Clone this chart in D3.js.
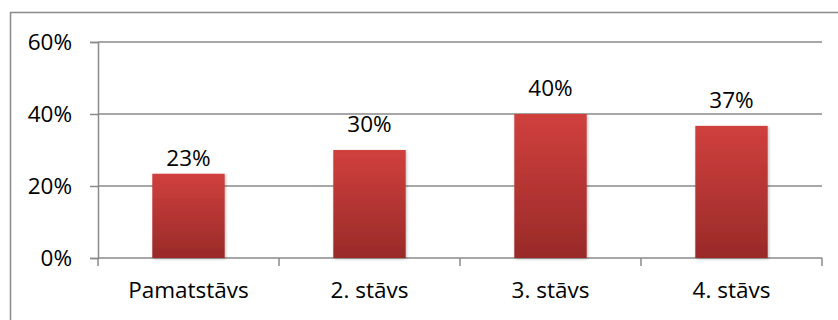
<!DOCTYPE html>
<html>
<head>
<meta charset="utf-8">
<script src="https://cdn.jsdelivr.net/npm/d3@7"></script>
<style>
  body { margin: 0; background: #fff; }
  svg { display: block; font-family: "Open Sans", sans-serif; }
</style>
</head>
<body>
<svg id="chart" width="838" height="320"></svg>
<script>
// Floor share chart
const categories = ['Pamatstāvs', '2. stāvs', '3. stāvs', '4. stāvs'];
const values = [0.234, 0.30, 0.40, 0.367];
const valueLabels = ['23%', '30%', '40%', '37%'];
const yTicks = [0, 0.2, 0.4, 0.6];

const svg = d3.select('#chart');
const plot = { left: 98, right: 822, top: 42, bottom: 258 };
const fontSize = '22.5px';

// outer frame (runs off the right and bottom edge)
svg.append('rect')
    .attr('x', 10.5)
    .attr('y', 12.5)
    .attr('width', 840)
    .attr('height', 320)
    .style('fill', 'none')
    .style('stroke', '#8a8a8a')
    .style('stroke-width', 1.5);

const defs = svg.append('defs');
const grad = defs.append('linearGradient')
    .attr('id', 'barGrad')
    .attr('x1', 0).attr('y1', 0).attr('x2', 0).attr('y2', 1);
grad.append('stop').attr('offset', '0%').attr('stop-color', '#d0403e');
grad.append('stop').attr('offset', '100%').attr('stop-color', '#992a28');

const shadow = defs.append('filter')
    .attr('id', 'shadow')
    .attr('x', '-20%').attr('y', '-20%')
    .attr('width', '140%').attr('height', '140%');
shadow.append('feDropShadow')
    .attr('dx', 1).attr('dy', 1)
    .attr('stdDeviation', 1.5)
    .attr('flood-color', '#000')
    .attr('flood-opacity', 0.25);

const xScale = d3.scaleBand()
    .domain(categories)
    .range([plot.left, plot.right])
    .paddingInner(0.6)
    .paddingOuter(0.3);

const yScale = d3.scaleLinear()
    .domain([0, 0.6])
    .range([plot.bottom, plot.top]);

// gridlines
svg.append('g')
    .selectAll('line')
    .data(yTicks.filter(d => d > 0))
    .enter().append('line')
    .attr('x1', plot.left)
    .attr('x2', plot.right)
    .attr('y1', d => yScale(d))
    .attr('y2', d => yScale(d))
    .style('stroke', '#8a8a8a')
    .style('stroke-width', 1.5);

// y axis
const yAxis = svg.append('g')
    .attr('transform', `translate(${plot.left},0)`)
    .call(d3.axisLeft(yScale)
        .tickValues(yTicks)
        .tickFormat(d3.format('.0%'))
        .tickSize(8)
        .tickPadding(18));
yAxis.select('.domain').style('stroke', '#8a8a8a').style('stroke-width', 1.5);
yAxis.selectAll('.tick line').style('stroke', '#8a8a8a').style('stroke-width', 1.5);
yAxis.selectAll('.tick text')
    .style('font-family', '"Open Sans", sans-serif')
    .style('font-size', fontSize)
    .style('fill', '#000');

// x axis with ticks at category boundaries
const boundaries = categories.map(c => xScale(c) - xScale.step() * xScale.paddingInner() / 2);
boundaries.push(plot.right);

svg.append('line')
    .attr('x1', plot.left).attr('x2', plot.right)
    .attr('y1', plot.bottom).attr('y2', plot.bottom)
    .style('stroke', '#8a8a8a')
    .style('stroke-width', 1.5);

svg.append('g')
    .selectAll('line')
    .data(boundaries)
    .enter().append('line')
    .attr('x1', d => d).attr('x2', d => d)
    .attr('y1', plot.bottom).attr('y2', plot.bottom + 8)
    .style('stroke', '#8a8a8a')
    .style('stroke-width', 1.5);

svg.append('g')
    .selectAll('text')
    .data(categories)
    .enter().append('text')
    .attr('x', d => xScale(d) + xScale.bandwidth() / 2)
    .attr('y', 298)
    .attr('text-anchor', 'middle')
    .style('font-size', fontSize)
    .style('fill', '#000')
    .text(d => d);

// bars
svg.append('g')
    .selectAll('rect')
    .data(values)
    .enter().append('rect')
    .attr('x', (d, i) => xScale(categories[i]))
    .attr('y', d => yScale(d))
    .attr('width', xScale.bandwidth())
    .attr('height', d => yScale(0) - yScale(d))
    .style('fill', 'url(#barGrad)')
    .attr('filter', 'url(#shadow)');

// value labels (the first one sits closer to its bar in the original)
svg.append('g')
    .selectAll('text')
    .data(values)
    .enter().append('text')
    .attr('x', (d, i) => xScale(categories[i]) + xScale.bandwidth() / 2)
    .attr('y', (d, i) => yScale(d) - (i === 0 ? 8 : 18))
    .attr('text-anchor', 'middle')
    .style('font-size', fontSize)
    .style('fill', '#000')
    .text((d, i) => valueLabels[i]);
</script>
</body>
</html>
